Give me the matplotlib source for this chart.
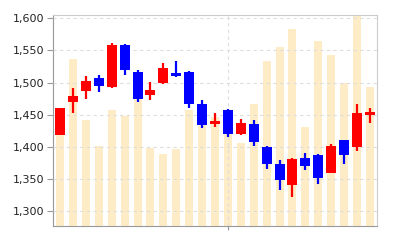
import matplotlib
matplotlib.use("Agg")
import matplotlib.pyplot as plt
import numpy as np

opens  = [1418, 1470, 1487, 1507, 1493, 1559, 1517, 1481, 1500, 1515, 1517, 1467, 1435,
          1458, 1420, 1436, 1400, 1373, 1340, 1382, 1387, 1360, 1410, 1400, 1450]
closes = [1460, 1479, 1503, 1494, 1559, 1519, 1474, 1488, 1522, 1510, 1466, 1434, 1440,
          1420, 1437, 1408, 1373, 1348, 1381, 1370, 1351, 1401, 1388, 1453, 1454]
highs  = [1461, 1492, 1510, 1511, 1561, 1560, 1519, 1501, 1530, 1533, 1518, 1473, 1452,
          1459, 1444, 1442, 1401, 1379, 1382, 1391, 1389, 1405, 1411, 1467, 1461]
lows   = [1418, 1453, 1475, 1486, 1492, 1511, 1470, 1473, 1498, 1509, 1460, 1430, 1431,
          1415, 1418, 1401, 1365, 1333, 1322, 1364, 1342, 1359, 1374, 1394, 1437]
volumes = [114, 167, 106, 80, 116, 110, 131, 78, 72, 77, 116, 111, 109,
           114, 83, 122, 165, 179, 197, 99, 185, 171, 143, 215, 139]
ytick_vals = [1300, 1350, 1400, 1450, 1500, 1550, 1600]
ytick_labels = ["1,300", "1,350", "1,400", "1,450", "1,500", "1,550", "1,600"]
xgrid_at = [13]

fig = plt.figure(figsize=(4, 2.4), dpi=100)
ax = fig.add_axes([0.1325, 0.0583, 0.81, 0.8792])
axv = ax.twinx()
ax.set_zorder(axv.get_zorder() + 1)
ax.patch.set_visible(False)

x = np.arange(len(opens))
axv.bar(x, volumes, width=0.62, color="#fdecc6", zorder=1)
axv.set_ylim(0, 211)
axv.set_yticks([])
for s in axv.spines.values():
    s.set_visible(False)

for i in range(len(opens)):
    up = closes[i] >= opens[i]
    c = "#ff0000" if up else "#0000ff"
    ax.vlines(x[i], lows[i], highs[i], color=c, linewidth=1.6, zorder=3)
    lo = min(opens[i], closes[i])
    h = max(abs(closes[i] - opens[i]), 1.5)
    ax.bar(x[i], h, bottom=lo, width=0.78, color=c, zorder=4, linewidth=0)

ax.set_xlim(-0.55, len(opens) - 0.45)
ax.set_ylim(1277, 1605)
ax.set_yticks(ytick_vals)
ax.set_yticklabels(ytick_labels, fontsize=8, color="#222222")
ax.set_xticks(xgrid_at)
ax.set_xticklabels([""])
ax.tick_params(axis="y", length=4, color="#999999", pad=2)
ax.tick_params(axis="x", length=3, color="#999999")
ax.grid(axis="both", linestyle=(0, (3, 3)), color="#dddddd", linewidth=0.8)
ax.set_axisbelow(False)
for k in ["left", "bottom"]:
    ax.spines[k].set_color("#999999")
for k in ["top", "right"]:
    ax.spines[k].set_color("#cccccc")

fig.savefig("out.png", dpi=100)
